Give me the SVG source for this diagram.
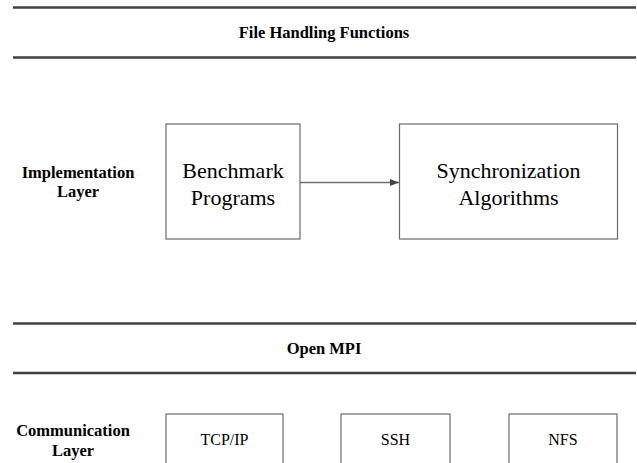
<svg xmlns="http://www.w3.org/2000/svg" width="637" height="463" viewBox="0 0 637 463">
<style>
.bar{stroke:#404040;stroke-width:2.6;fill:none}
.box{fill:#fff;stroke:#6a6a6a;stroke-width:1.2}
text{font-family:'Liberation Serif','DejaVu Serif',serif;fill:#000;text-anchor:middle}
.lbl{font-weight:bold;font-size:16.5px}
.big{font-size:22px}
.sm{font-size:16px}
</style>
<defs>
<marker id="ah" markerWidth="9" markerHeight="8" refX="9" refY="4" orient="auto" markerUnits="userSpaceOnUse">
<path d="M0,0.5 L9,4 L0,7.5 Z" fill="#444"/>
</marker>
</defs>
<rect width="637" height="463" fill="#fff"/>
<g id="file-handling">
<line class="bar" x1="13" y1="7.5" x2="636" y2="7.5"/>
<text class="lbl" x="324" y="37.5">File Handling Functions</text>
<line class="bar" x1="13" y1="57.5" x2="636" y2="57.5"/>
</g>
<g id="implementation-layer">
<text class="lbl" x="78" y="178">Implementation</text>
<text class="lbl" x="78" y="197">Layer</text>
</g>
<g id="benchmark">
<rect class="box" x="166" y="124" width="134" height="115"/>
<text class="big" x="233" y="177.5">Benchmark</text>
<text class="big" x="233" y="204.5">Programs</text>
</g>
<g id="sync">
<rect class="box" x="399.5" y="124" width="218" height="115"/>
<text class="big" x="508.5" y="177.5">Synchronization</text>
<text class="big" x="508.5" y="204.5">Algorithms</text>
</g>
<g id="open-mpi">
<line class="bar" x1="13" y1="323.5" x2="636" y2="323.5"/>
<text class="lbl" x="324" y="353.5">Open MPI</text>
<line class="bar" x1="13" y1="373" x2="636" y2="373"/>
</g>
<g id="communication-layer">
<text class="lbl" x="73" y="436">Communication</text>
<text class="lbl" x="73" y="456">Layer</text>
</g>
<g id="tcpip">
<rect class="box" x="166" y="414" width="117" height="60"/>
<text class="sm" x="224.5" y="445">TCP/IP</text>
</g>
<g id="ssh">
<rect class="box" x="341" y="414" width="109" height="60"/>
<text class="sm" x="395.5" y="445">SSH</text>
</g>
<g id="nfs">
<rect class="box" x="509" y="414" width="108" height="60"/>
<text class="sm" x="563" y="445">NFS</text>
</g>
<g id="connectors">
<line x1="300" y1="182.5" x2="399" y2="182.5" stroke="#707070" stroke-width="1.3" marker-end="url(#ah)"/>
</g>
</svg>
